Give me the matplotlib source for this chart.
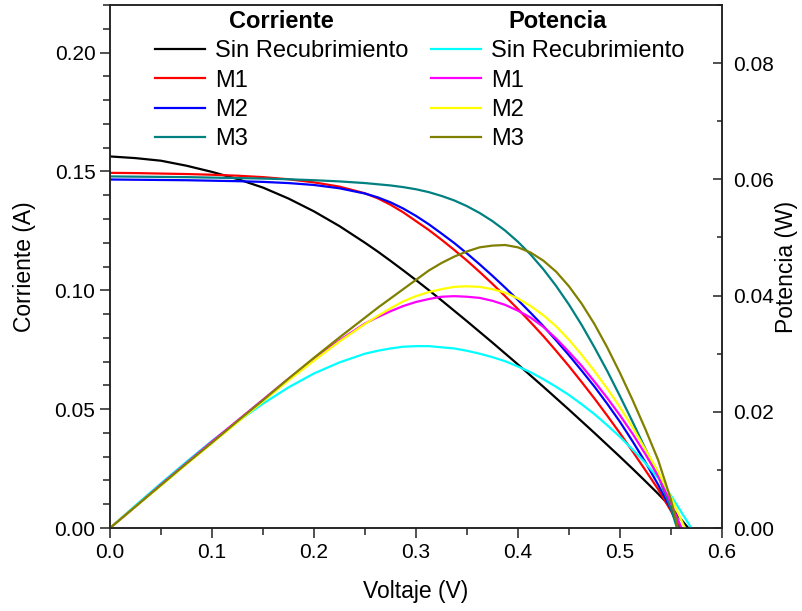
import matplotlib
matplotlib.use("Agg")
import matplotlib.pyplot as plt
from matplotlib.ticker import MultipleLocator, FormatStrFormatter

plt.rcParams['font.family'] = ['Liberation Sans', 'DejaVu Sans']

# Voltage grid shared by all curves (V): coarse on the linear part, finer past the knee
voltaje = [0.0, 0.025, 0.05, 0.075, 0.1, 0.125, 0.15, 0.175, 0.2, 0.225,
           0.25, 0.2625, 0.275, 0.2875, 0.3, 0.3125, 0.325, 0.3375, 0.35, 0.3625,
           0.375, 0.3875, 0.4, 0.4125, 0.425, 0.4375, 0.45, 0.4625, 0.475, 0.4875,
           0.5, 0.5125, 0.525, 0.5375, 0.55]

# Open-circuit voltage where each curve reaches zero (V)
voc_sin = 0.567
voc_m1 = 0.559
voc_m2 = 0.5575
voc_m3 = 0.556
voc_p_sin = 0.570
voc_p_m1 = 0.5604
voc_p_m2 = 0.5637
voc_p_m3 = 0.557

# Current (A)
corriente_sin = [0.1563, 0.1556, 0.1545, 0.1524, 0.1498, 0.1468, 0.1432, 0.1386, 0.1332, 0.1270,
                 0.1200, 0.1163, 0.1124, 0.1084, 0.1043, 0.1001, 0.0958, 0.0914, 0.0870, 0.0825,
                 0.0780, 0.0734, 0.0688, 0.0641, 0.0594, 0.0546, 0.0498, 0.0449, 0.0400, 0.0350,
                 0.0300, 0.0249, 0.0197, 0.0144, 0.0088]
corriente_m1 = [0.1494, 0.1493, 0.1491, 0.1489, 0.1486, 0.1482, 0.1476, 0.1467, 0.1454, 0.1436,
                0.1408, 0.1387, 0.1360, 0.1328, 0.1291, 0.1254, 0.1213, 0.1170, 0.1125, 0.1077,
                0.1027, 0.0975, 0.0921, 0.0865, 0.0807, 0.0745, 0.0681, 0.0614, 0.0545, 0.0473,
                0.0399, 0.0322, 0.0243, 0.0163, 0.0072]
corriente_m2 = [0.1466, 0.1465, 0.1464, 0.1463, 0.1461, 0.1459, 0.1456, 0.1451, 0.1443, 0.1429,
                0.1407, 0.1391, 0.1370, 0.1344, 0.1313, 0.1278, 0.1239, 0.1199, 0.1155, 0.1109,
                0.1061, 0.1011, 0.0959, 0.0905, 0.0849, 0.0789, 0.0727, 0.0662, 0.0595, 0.0523,
                0.0447, 0.0364, 0.0277, 0.0182, 0.0080]
corriente_m3 = [0.1479, 0.1478, 0.1477, 0.1476, 0.1474, 0.1472, 0.1470, 0.1467, 0.1463, 0.1458,
                0.1451, 0.1446, 0.1441, 0.1434, 0.1425, 0.1413, 0.1397, 0.1378, 0.1354, 0.1325,
                0.1291, 0.1251, 0.1204, 0.1150, 0.1088, 0.1018, 0.0940, 0.0854, 0.0760, 0.0661,
                0.0555, 0.0446, 0.0333, 0.0218, 0.0082]

# Power (W)
potencia_sin = [0.0, 0.0039, 0.0077, 0.0114, 0.0150, 0.0183, 0.0214, 0.0242, 0.0266, 0.0285,
                0.0300, 0.0305, 0.0309, 0.0312, 0.0313, 0.0313, 0.0311, 0.0309, 0.0305, 0.0300,
                0.0294, 0.0287, 0.0278, 0.0268, 0.0256, 0.0243, 0.0229, 0.0213, 0.0196, 0.0177,
                0.0157, 0.0135, 0.0112, 0.0086, 0.0056]
potencia_m1 = [0.0, 0.0037, 0.0075, 0.0112, 0.0149, 0.0185, 0.0221, 0.0257, 0.0291, 0.0323,
               0.0352, 0.0363, 0.0373, 0.0382, 0.0389, 0.0394, 0.0398, 0.0399, 0.0398, 0.0396,
               0.0391, 0.0384, 0.0374, 0.0362, 0.0346, 0.0326, 0.0303, 0.0279, 0.0252, 0.0224,
               0.0194, 0.0162, 0.0127, 0.0089, 0.0043]
potencia_m2 = [0.0, 0.0037, 0.0073, 0.0110, 0.0146, 0.0182, 0.0218, 0.0254, 0.0288, 0.0321,
               0.0351, 0.0365, 0.0378, 0.0390, 0.0399, 0.0406, 0.0411, 0.0415, 0.0416, 0.0415,
               0.0411, 0.0405, 0.0395, 0.0382, 0.0366, 0.0347, 0.0324, 0.0298, 0.0270, 0.0240,
               0.0208, 0.0173, 0.0135, 0.0097, 0.0053]
potencia_m3 = [0.0, 0.0037, 0.0074, 0.0111, 0.0147, 0.0184, 0.0220, 0.0257, 0.0293, 0.0328,
               0.0362, 0.0379, 0.0395, 0.0411, 0.0427, 0.0443, 0.0456, 0.0467, 0.0476, 0.0483,
               0.0486, 0.0487, 0.0483, 0.0474, 0.0460, 0.0441, 0.0416, 0.0386, 0.0351, 0.0311,
               0.0267, 0.0220, 0.0170, 0.0117, 0.0049]

etiquetas = ['Sin Recubrimiento', 'M1', 'M2', 'M3']
colores_corriente = ['#000000', '#ff0000', '#0000ff', '#008080']
colores_potencia = ['#00ffff', '#ff00ff', '#ffff00', '#808000']

fig = plt.figure(figsize=(8.03, 6.11), dpi=100)
ax = fig.add_axes([0.137, 0.1358, 0.762, 0.856])
ax2 = ax.twinx()

lw = 1.6
h_corr = []
for vals, voc, c, lab in zip([corriente_sin, corriente_m1, corriente_m2, corriente_m3],
                             [voc_sin, voc_m1, voc_m2, voc_m3],
                             colores_corriente, etiquetas):
    ln, = ax.plot(voltaje + [voc], vals + [0.0], color=c, lw=lw, label=lab,
                  solid_joinstyle='round')
    h_corr.append(ln)

h_pot = []
for vals, voc, c, lab in zip([potencia_sin, potencia_m1, potencia_m2, potencia_m3],
                             [voc_p_sin, voc_p_m1, voc_p_m2, voc_p_m3],
                             colores_potencia, etiquetas):
    ln, = ax2.plot(voltaje + [voc], vals + [0.0], color=c, lw=lw, label=lab,
                   solid_joinstyle='round')
    h_pot.append(ln)

ax.set_xlim(0, 0.6)
ax.set_ylim(0, 0.22)
ax2.set_ylim(0, 0.09)

ax.xaxis.set_major_locator(MultipleLocator(0.1))
ax.xaxis.set_minor_locator(MultipleLocator(0.05))
ax.yaxis.set_major_locator(MultipleLocator(0.05))
ax.yaxis.set_minor_locator(MultipleLocator(0.01))
ax2.yaxis.set_major_locator(MultipleLocator(0.02))
ax2.yaxis.set_minor_locator(MultipleLocator(0.01))

ax.xaxis.set_major_formatter(FormatStrFormatter('%.1f'))
ax.yaxis.set_major_formatter(FormatStrFormatter('%.2f'))
ax2.yaxis.set_major_formatter(FormatStrFormatter('%.2f'))

spine_c = '#222222'
for a in (ax, ax2):
    for s in a.spines.values():
        s.set_linewidth(1.1)
        s.set_color(spine_c)

ax.tick_params(axis='both', which='major', direction='out', length=7, width=1.1,
               labelsize=15, color=spine_c, top=False, right=False)
ax.tick_params(axis='both', which='minor', direction='out', length=4.8, width=1.1,
               color=spine_c, top=False, right=False)
ax2.tick_params(axis='y', which='major', direction='in', length=6.5, width=1.1,
                labelsize=15, color=spine_c, pad=8)
ax2.tick_params(axis='y', which='minor', direction='in', length=3.8, width=1.1,
                color=spine_c)

ax.set_xlabel('Voltaje (V)', fontsize=16.5, labelpad=13)
ax.set_ylabel('Corriente (A)', fontsize=16.5, labelpad=13)
ax2.set_ylabel('Potencia (W)', fontsize=16.5, labelpad=1)

leg_kw = dict(frameon=False, fontsize=17, handlelength=2.1, handletextpad=0.45,
              labelspacing=0.31, borderpad=0, borderaxespad=0, loc='upper left',
              title_fontproperties={'weight': 'bold', 'size': 17})
leg1 = ax2.legend(handles=h_corr, title='Corriente',
                  bbox_to_anchor=(155 / 803, 1 - 10 / 611),
                  bbox_transform=fig.transFigure, **leg_kw)
ax2.add_artist(leg1)
leg2 = ax2.legend(handles=h_pot, title='Potencia',
                  bbox_to_anchor=(431 / 803, 1 - 10 / 611),
                  bbox_transform=fig.transFigure, **leg_kw)

fig.savefig('out.png', dpi=100)
